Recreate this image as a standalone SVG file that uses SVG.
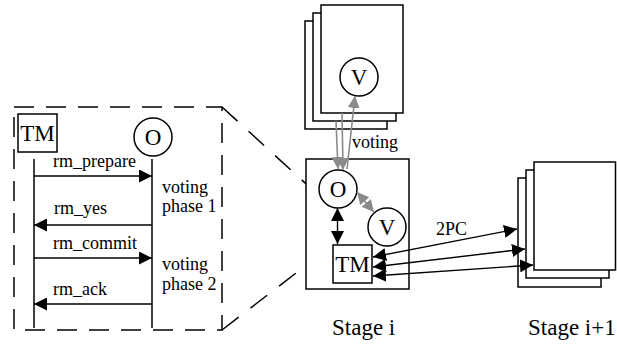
<svg xmlns="http://www.w3.org/2000/svg" width="617" height="344" viewBox="0 0 617 344">
<style>
  text { fill: #000; }
  .lbl { font-size: 18px; }
  .big { font-size: 23px; }
  .box { fill: #fff; stroke: #000; stroke-width: 1.5; }
  .dash { fill: none; stroke: #000; stroke-width: 1.5; stroke-dasharray: 20 12; }
  .ddash { fill: none; stroke: #000; stroke-width: 1.5; stroke-dasharray: 21 15; }
  .life { stroke: #000; stroke-width: 1.5; fill: none; }
  .blk { stroke: #000; stroke-width: 1.4; fill: none; marker-end: url(#ah); }
  .blk2 { stroke: #000; stroke-width: 1.4; fill: none; marker-start: url(#ah); marker-end: url(#ah); }
  .gry { stroke: #8a8a8a; stroke-width: 1.6; fill: none; marker-end: url(#gh); }
  .gry2 { stroke: #8a8a8a; stroke-width: 1.6; fill: none; marker-start: url(#gh); marker-end: url(#gh); }
</style>
<defs>
  <marker id="ah" markerUnits="userSpaceOnUse" markerWidth="14" markerHeight="13" refX="13" refY="6.5" orient="auto-start-reverse" viewBox="0 0 14 13">
    <path d="M0,0 L13,6.5 L0,13 z" fill="#000"/>
  </marker>
  <marker id="gh" markerUnits="userSpaceOnUse" markerWidth="13" markerHeight="12" refX="12" refY="6" orient="auto-start-reverse" viewBox="0 0 13 12">
    <path d="M0,0 L12,6 L0,12 z" fill="#8a8a8a"/>
  </marker>
</defs>

<g font-family="'Liberation Serif', 'Times New Roman', Times, 'DejaVu Serif', serif">

<!-- zoom frame (sequence detail) -->
<g id="zoom-frame">
  <rect class="dash" x="14" y="107" width="208" height="223"/>
  <line class="ddash" x1="222" y1="107" x2="316" y2="193"/>
  <line class="ddash" x1="222" y1="330" x2="335" y2="243"/>
</g>

<!-- sequence participants -->
<g id="seq-tm">
  <rect class="box" x="18" y="114" width="39" height="38"/>
  <text class="big" x="37.5" y="141" text-anchor="middle">TM</text>
  <line class="life" x1="34" y1="159" x2="34" y2="328"/>
</g>
<g id="seq-o">
  <circle class="box" cx="153" cy="137" r="19"/>
  <text class="big" x="153" y="145" text-anchor="middle">O</text>
  <line class="life" x1="152" y1="159" x2="152" y2="328"/>
</g>

<!-- sequence messages -->
<g id="seq-messages">
  <line class="blk" x1="34" y1="176" x2="152" y2="176"/>
  <text class="lbl" x="53" y="167">rm_prepare</text>
  <line class="blk" x1="152" y1="225" x2="34" y2="225"/>
  <text class="lbl" x="54" y="214">rm_yes</text>
  <line class="blk" x1="34" y1="258" x2="152" y2="258"/>
  <text class="lbl" x="53" y="249">rm_commit</text>
  <line class="blk" x1="152" y1="304" x2="34" y2="304"/>
  <text class="lbl" x="53" y="295">rm_ack</text>
  <text class="lbl" x="162" y="193">voting</text>
  <text class="lbl" x="162" y="212">phase 1</text>
  <text class="lbl" x="162" y="270">voting</text>
  <text class="lbl" x="162" y="290">phase 2</text>
</g>

<!-- upper voter pages -->
<g id="voter-pages">
  <rect class="box" x="305" y="21" width="82" height="108"/>
  <rect class="box" x="313" y="13" width="83" height="108"/>
  <rect class="box" x="321" y="5" width="82" height="108"/>
  <circle class="box" cx="359" cy="77" r="19"/>
  <text class="big" x="359" y="85" text-anchor="middle">V</text>
</g>

<!-- stage i -->
<g id="stage-i">
  <rect class="box" x="306" y="159" width="103" height="130"/>
  <text class="big" x="332" y="335">Stage i</text>
</g>
<g id="stage-i-o">
  <circle class="box" cx="338" cy="189" r="19"/>
  <text class="big" x="338" y="197" text-anchor="middle">O</text>
</g>
<g id="stage-i-v">
  <circle class="box" cx="387" cy="227" r="19"/>
  <text class="big" x="387" y="235" text-anchor="middle">V</text>
</g>
<g id="stage-i-tm">
  <rect class="box" x="333" y="245" width="39" height="38"/>
  <text class="big" x="352.5" y="272" text-anchor="middle">TM</text>
</g>

<!-- stage i+1 -->
<g id="stage-i1">
  <rect class="box" x="518" y="178" width="83" height="109"/>
  <rect class="box" x="526" y="170" width="83" height="108"/>
  <rect class="box" x="534" y="162" width="81.5" height="108"/>
  <text class="big" x="528" y="335">Stage i+1</text>
</g>

<!-- connectors -->
<g id="connectors">
  <line class="gry" x1="336" y1="121" x2="338" y2="169"/>
  <line class="gry" x1="342" y1="113" x2="343" y2="170"/>
  <line class="gry" x1="347" y1="169" x2="355" y2="96"/>
  <text class="lbl" x="352" y="148">voting</text>
  <line class="gry2" x1="357" y1="192" x2="374" y2="212"/>
  <line class="blk2" x1="337.5" y1="208" x2="337.5" y2="244"/>
  <line class="blk2" x1="373" y1="257" x2="517" y2="229"/>
  <line class="blk2" x1="373" y1="267" x2="525" y2="249"/>
  <line class="blk2" x1="373" y1="276" x2="533" y2="265"/>
  <text class="lbl" x="436" y="235">2PC</text>
</g>

</g>
</svg>
